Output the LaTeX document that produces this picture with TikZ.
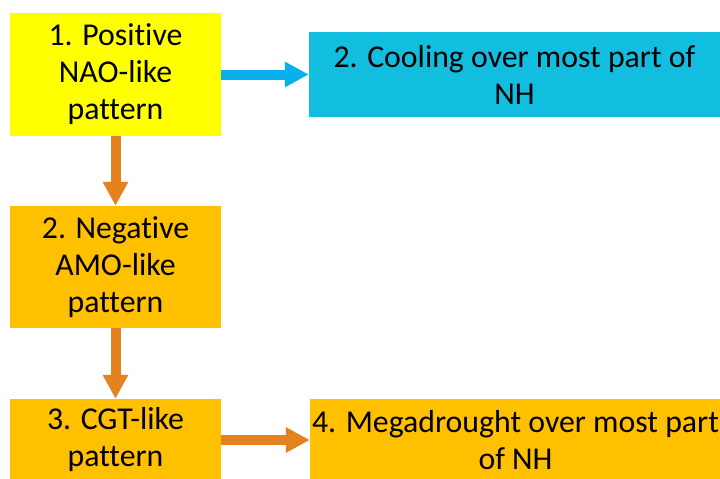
\documentclass[tikz,border=0pt]{standalone}
\usepackage{fontspec}
\setmainfont[Ligatures=NoCommon]{Carlito}
\usepackage{tikz}
\usepackage{xcolor}
\usetikzlibrary{arrows.meta}
\definecolor{naoyellow}{HTML}{FFFF00}
\definecolor{amoorange}{HTML}{FFC000}
\definecolor{coolcyan}{HTML}{12BEE0}
\definecolor{coolarrowc}{HTML}{0AB0EE}
\definecolor{warmarrowc}{HTML}{E3821F}
\tikzstyle{patternbox} =[
    rectangle,
    inner sep=0pt,
    minimum width=211pt,
    align=center,
    text=black,
    font=\fontsize{31.8}{37}\selectfont
    ]
\tikzstyle{coolarrow} =[
    draw=coolarrowc,
    line width=10pt,
    -{Triangle[length=24pt,width=24pt]}
    ]
\tikzstyle{warmarrow} =[
    draw=warmarrowc,
    line width=10pt,
    -{Triangle[length=24pt,width=24pt]}
    ]
\begin{document}
\begin{tikzpicture}[x=1pt,y=-1pt]
\useasboundingbox (0,0) rectangle (720,479);
\clip (0,0) rectangle (720,479);
\fill[white] (0,0) rectangle (720,479);

% left column
\node[patternbox, fill=naoyellow, minimum height=123pt] (nao) at (115.5,74.5)
    {1. Positive\\NAO-like\\pattern};
\node[patternbox, fill=amoorange, minimum height=122pt] (amo) at (115.5,267)
    {2. Negative\\AMO-like\\pattern};
\node[patternbox, fill=amoorange, minimum height=82pt] (cgt) at (115.5,440)
    {3. CGT-like\\pattern};

% right column
\node[patternbox, fill=coolcyan, minimum width=411pt, minimum height=85pt] (cool) at (514.5,74.5)
    {2. Cooling over most part of\\NH};
\node[patternbox, fill=amoorange, minimum width=411pt, minimum height=82pt] (drought) at (515.5,440)
    {4. Megadrought over most part\\of NH};

\draw[coolarrow] (nao) -- (cool);
\draw[warmarrow] (nao) -- (amo);
\draw[warmarrow] (amo) -- (cgt);
\draw[warmarrow] (cgt) -- (drought);
\end{tikzpicture}
\end{document}
